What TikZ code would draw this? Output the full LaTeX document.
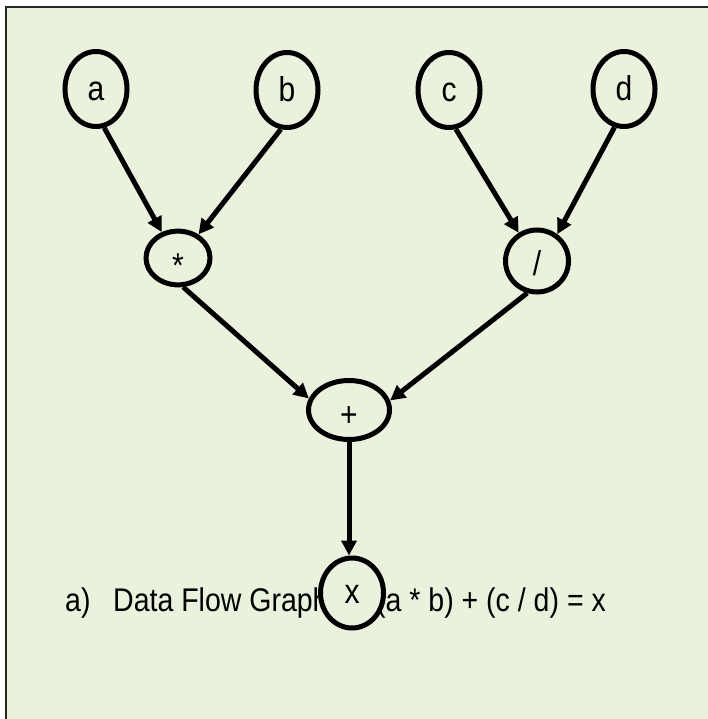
\documentclass[tikz,border=0pt]{standalone}
\usepackage{fontspec}
\setmainfont{Liberation Sans}
\usetikzlibrary{arrows.meta,shapes.geometric}
\definecolor{panel}{HTML}{EAF1DD}
% text set slightly taller than wide
\newcommand{\tallset}[1]{\scalebox{1}[1.15]{#1}}
\begin{document}
\begin{tikzpicture}[x=1pt,y=-1pt,
  % the text box is empty below the baseline, so the baseline sits
  % half the text height below the centre of the ellipse
  op/.style={ellipse,draw=black,line width=5pt,fill=panel,inner sep=0pt,
    text height=24pt,text depth=0pt,font=\fontsize{30}{32}\selectfont},
  leaf/.style={op,minimum width=62pt,minimum height=75pt},
  flow/.style={line width=5pt,-{Triangle[length=15pt,width=15pt]}},
  caption/.style={anchor=base west,inner sep=0pt,font=\fontsize{28.5}{30}\selectfont}]
\useasboundingbox (0,0) rectangle (707,719);
% panel with its top and left border
\fill[panel] (6,7) rectangle (730,740);
\draw[line width=2pt,black!85] (6,740) -- (6,7) -- (730,7);

% caption (partly covered by the result node)
\node[caption] (cap) at (65,611)
  {\tallset{\makebox[48pt][l]{a)}\makebox[263pt][l]{Data Flow Graph:}(a * b) + (c / d) = x}};

% inputs
\node[leaf] (a) at (96,89) {\tallset{a}};
\node[leaf] (b) at (287,90) {\tallset{b}};
\node[leaf] (c) at (449,90) {\tallset{c}};
\node[leaf] (d) at (624,89) {\tallset{d}};
% operators
\node[op,minimum width=64pt,minimum height=53pt,text height=38pt] (mul) at (178,258) {\tallset{*}};
\node[op,minimum width=63pt,minimum height=62pt,text height=28pt] (div) at (537,261) {\tallset{/}};
\node[op,minimum width=81pt,minimum height=59pt,text height=32pt] (add) at (349,410) {\tallset{+}};
% result
\node[op,minimum width=63pt,minimum height=70pt,text height=20pt] (res) at (352,593) {\tallset{x}};

% data flow
\draw[flow] (a.-78) -- (mul.122);
\draw[flow] (b.-99) -- (mul.49);
\draw[flow] (c.-80) -- (div.123);
\draw[flow] (d.-104) -- (div.53);
\draw[flow] (mul.-80) -- (add.164);
\draw[flow] (div.-107) -- (add.13);
\draw[flow] (add.south) -- (add.south |- res.north);
\end{tikzpicture}
\end{document}
